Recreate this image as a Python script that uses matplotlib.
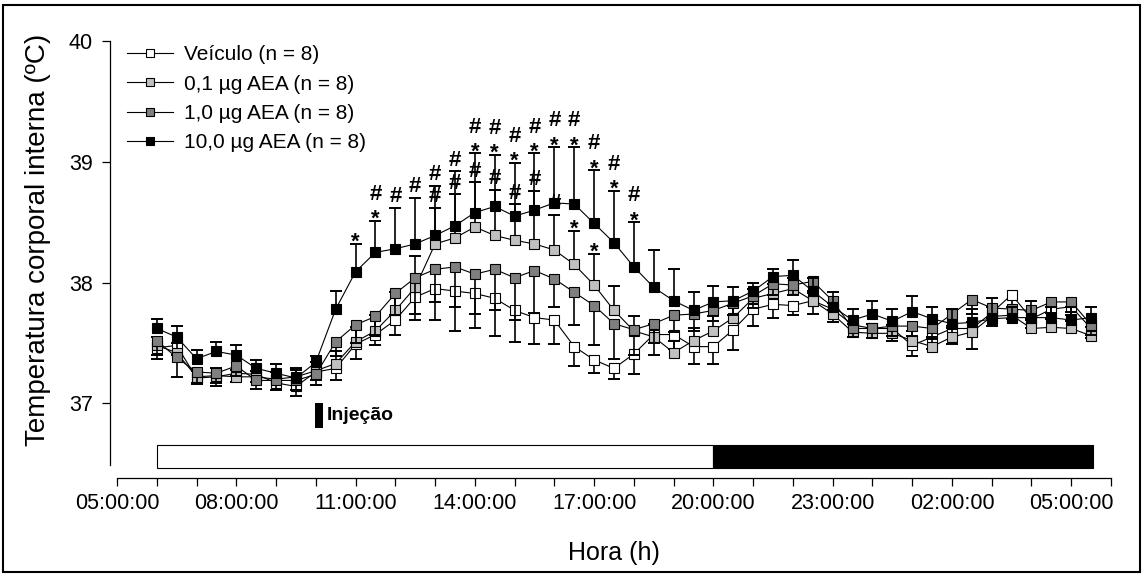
import numpy as np
import matplotlib.pyplot as plt
from matplotlib.lines import Line2D
from matplotlib.patches import Rectangle
from matplotlib.ticker import MultipleLocator, FixedLocator, FuncFormatter

plt.rcParams['font.family'] = ['Liberation Sans', 'DejaVu Sans']

# horas do relógio (30 = 06:00 do dia seguinte), coleta a cada 30 min
hora = np.arange(6.0, 30.0, 0.5)

veiculo = [37.46, 37.48, 37.21, 37.22, 37.25, 37.24, 37.17, 37.14, 37.26, 37.29,
           37.49, 37.57, 37.69, 37.88, 37.95, 37.93, 37.91, 37.87, 37.77, 37.71,
           37.69, 37.47, 37.36, 37.29, 37.41, 37.57, 37.57, 37.47, 37.47, 37.61,
           37.78, 37.82, 37.81, 37.85, 37.78, 37.65, 37.62, 37.62, 37.48, 37.55,
           37.62, 37.62, 37.75, 37.90, 37.70, 37.78, 37.80, 37.62]
veiculo_ep = [0.09, 0.08, 0.05, 0.08, 0.07, 0.06, 0.06, 0.08, 0.07, 0.10,
              0.12, 0.09, 0.12, 0.19, 0.26, 0.33, 0.29, 0.31, 0.26, 0.22,
              0.20, 0.16, 0.11, 0.09, 0.17, 0.17, 0.12, 0.14, 0.14, 0.17,
              0.14, 0.11, 0.08, 0.11, 0.11, 0.10, 0.08, 0.10, 0.09, 0.10,
              0.13, 0.17, 0.11, 0.10, 0.08, 0.08, 0.07, 0.08]

aea_01 = [37.48, 37.42, 37.22, 37.23, 37.22, 37.22, 37.20, 37.22, 37.27, 37.33,
          37.51, 37.60, 37.77, 37.96, 38.32, 38.37, 38.46, 38.39, 38.35, 38.32,
          38.27, 38.15, 37.98, 37.77, 37.60, 37.55, 37.42, 37.52, 37.60, 37.71,
          37.87, 37.91, 37.95, 37.85, 37.74, 37.59, 37.58, 37.58, 37.52, 37.47,
          37.55, 37.59, 37.72, 37.73, 37.62, 37.63, 37.62, 37.56]
aea_01_ep = [0.07, 0.08, 0.05, 0.06, 0.06, 0.05, 0.06, 0.06, 0.07, 0.10,
             0.12, 0.13, 0.15, 0.26, 0.30, 0.36, 0.37, 0.38, 0.30, 0.44,
             0.29, 0.28, 0.26, 0.20, 0.12, 0.11, 0.10, 0.10, 0.12, 0.10,
             0.08, 0.08, 0.09, 0.08, 0.09, 0.07, 0.08, 0.07, 0.08, 0.08,
             0.07, 0.08, 0.08, 0.07, 0.08, 0.07, 0.06, 0.07]

aea_1 = [37.52, 37.38, 37.26, 37.25, 37.31, 37.19, 37.19, 37.19, 37.24, 37.51,
         37.65, 37.72, 37.91, 38.04, 38.11, 38.13, 38.07, 38.11, 38.04, 38.10,
         38.03, 37.92, 37.81, 37.66, 37.61, 37.66, 37.73, 37.74, 37.77, 37.83,
         37.89, 37.99, 37.98, 38.01, 37.85, 37.62, 37.62, 37.64, 37.64, 37.62,
         37.74, 37.86, 37.79, 37.78, 37.77, 37.84, 37.84, 37.65]
aea_1_ep = [0.12, 0.16, 0.09, 0.08, 0.08, 0.07, 0.08, 0.08, 0.09, 0.12,
            0.15, 0.15, 0.18, 0.30, 0.27, 0.33, 0.33, 0.34, 0.35, 0.35,
            0.23, 0.27, 0.33, 0.29, 0.21, 0.16, 0.14, 0.14, 0.09, 0.10,
            0.10, 0.09, 0.08, 0.10, 0.08, 0.07, 0.08, 0.08, 0.08, 0.09,
            0.10, 0.12, 0.08, 0.08, 0.08, 0.09, 0.08, 0.08]

aea_10 = [37.62, 37.55, 37.37, 37.43, 37.40, 37.29, 37.25, 37.21, 37.34, 37.78,
          38.09, 38.25, 38.28, 38.32, 38.39, 38.47, 38.58, 38.63, 38.55, 38.60,
          38.66, 38.65, 38.49, 38.33, 38.13, 37.96, 37.85, 37.77, 37.84, 37.85,
          37.93, 38.05, 38.06, 37.93, 37.80, 37.69, 37.74, 37.68, 37.76, 37.70,
          37.66, 37.67, 37.70, 37.71, 37.71, 37.71, 37.69, 37.71]
aea_10_ep = [0.08, 0.09, 0.07, 0.08, 0.08, 0.07, 0.08, 0.08, 0.05, 0.15,
             0.23, 0.26, 0.34, 0.38, 0.41, 0.45, 0.49, 0.43, 0.44, 0.47,
             0.46, 0.47, 0.44, 0.43, 0.37, 0.31, 0.26, 0.15, 0.13, 0.11,
             0.07, 0.06, 0.13, 0.11, 0.12, 0.09, 0.11, 0.10, 0.13, 0.10,
             0.12, 0.11, 0.17, 0.09, 0.14, 0.09, 0.11, 0.09]

# marcas de significância (* e #) acima das barras
sig_10 = [''] * 10 + ['*', '*#', '#', '#', '#', '#'] + ['*#'] * 9 + [''] * 23
sig_01 = [''] * 14 + ['#'] * 7 + ['*', '*'] + [''] * 25

series = [
    ("Veículo (n = 8)", veiculo, veiculo_ep, 'white', -1, None),
    ("0,1 µg AEA (n = 8)", aea_01, aea_01_ep, '#c0c0c0', 1, sig_01),
    ("1,0 µg AEA (n = 8)", aea_1, aea_1_ep, '#7f7f7f', -1, None),
    ("10,0 µg AEA (n = 8)", aea_10, aea_10_ep, 'black', 1, sig_10),
]

W, H = 1143, 574
fig = plt.figure(figsize=(W / 100, H / 100), dpi=100)
ax = fig.add_axes([117 / W, 1 - 465 / H, 994 / W, 424 / H])
ax.set_xlim(5, 30)
ax.set_ylim(36.49, 40)

simb = dict(textcoords='offset points', ha='center', va='baseline', fontsize=16,
            fontweight='bold', zorder=20)

handles = []
for k, (nome, m, ep, cor, sentido, sig) in enumerate(series):
    m = np.array(m)
    ep = np.array(ep)
    ponta = m + sentido * ep
    z = 3 + 2 * k
    ax.vlines(hora, m, ponta, color='black', lw=1.2, zorder=z)
    ax.plot(hora, ponta, ls='none', marker='_', ms=9, mew=1.4, color='black', zorder=z)
    ax.plot(hora, m, color='black', lw=0.8, marker='s', ms=7, mfc=cor, mec='black',
            mew=0.8, zorder=z + 1)
    handles.append(Line2D([], [], color='black', lw=0.8, marker='s', ms=5.5, mfc=cor,
                          mec='black', mew=0.8, label=nome))
    if sig:
        for x, y, s in zip(hora, ponta, sig):
            if s == '':
                continue
            if '*' in s:
                ax.annotate('*', (x, y), xytext=(0, -3.0), **simb)
                if '#' in s:
                    ax.annotate('#', (x, y), xytext=(0, 15), **simb)
            else:
                ax.annotate('#', (x, y), xytext=(0, 4), **simb)

# barra claro / escuro
ax.add_patch(Rectangle((6.0, 36.463), 14.0, 0.19, facecolor='white', edgecolor='black',
                       lw=0.8, clip_on=False, zorder=2))
ax.add_patch(Rectangle((20.0, 36.463), 9.55, 0.19, facecolor='black', edgecolor='black',
                       lw=0.8, clip_on=False, zorder=2))

# momento da injeção
ax.add_patch(Rectangle((9.98, 36.80), 0.2, 0.2, facecolor='black', edgecolor='none', zorder=2))
ax.text(10.28, 36.90, "Injeção", fontsize=14, fontweight='bold', ha='left', va='center')

for s in ['top', 'right']:
    ax.spines[s].set_visible(False)
ax.spines['left'].set_position(('outward', 5))
ax.spines['bottom'].set_position(('outward', 9))
ax.spines['left'].set_linewidth(0.9)
ax.spines['bottom'].set_linewidth(0.9)

ax.set_yticks([37, 38, 39, 40])
ax.xaxis.set_major_locator(FixedLocator(np.arange(5, 30, 3)))
ax.xaxis.set_minor_locator(MultipleLocator(1))
ax.xaxis.set_major_formatter(FuncFormatter(lambda v, p: f"{int(round(v)) % 24:02d}:00:00"))
ax.tick_params(axis='both', which='both', direction='out', length=5.5, width=0.9,
               labelsize=15.5)
ax.tick_params(axis='y', pad=7)
ax.tick_params(axis='x', pad=6)

ax.set_xlabel("Hora (h)", fontsize=18, labelpad=19)
ax.set_ylabel("Temperatura corporal interna (ºC)", fontsize=20)
ax.yaxis.set_label_coords(-0.066, 0.53)

ax.legend(handles=handles, loc='upper left', bbox_to_anchor=(0.01, 0.99), frameon=False,
          fontsize=15, handlelength=2.2, handletextpad=0.55, labelspacing=0.5,
          borderpad=0, borderaxespad=0)

fig.add_artist(Rectangle((3 / W, 2 / H), 1137 / W, 567 / H, transform=fig.transFigure,
                         fill=False, lw=1.5, ec='black'))

fig.savefig('out.png', dpi=100)
